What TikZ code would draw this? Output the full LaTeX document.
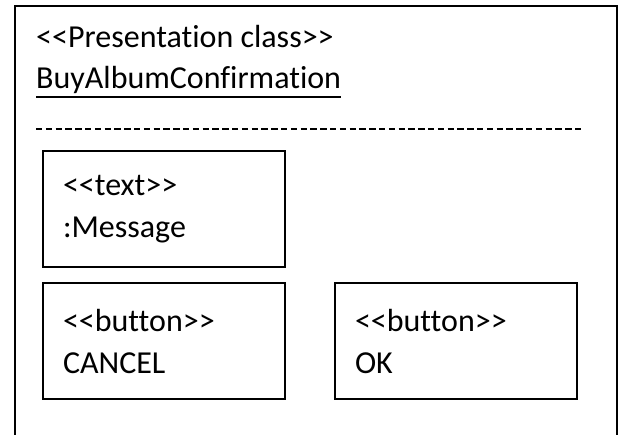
\documentclass[tikz,border=0pt]{standalone}
\usepackage{fontspec}
\setmainfont{Carlito}[Ligatures={NoCommon}]
\usetikzlibrary{positioning}
\newcommand\bodyfont{\fontsize{32}{42}\selectfont}
\newcommand\stereo[1]{<{}<#1>{}>}

\begin{document}
\begin{tikzpicture}[x=1pt,y=-1pt,
  winframe/.style={draw,line width=2.2pt,anchor=north west,outer sep=0pt,inner sep=0pt,
                   minimum width=602pt,minimum height=470pt},
  uibox/.style={draw,line width=2pt,anchor=north west,outer sep=0pt,
                minimum width=242pt,minimum height=116pt,text width=202pt,
                inner xsep=20pt,align=left,font=\bodyfont},
  lbl/.style={anchor=base west,inner sep=0pt,font=\bodyfont},
  sep/.style={line width=1.8pt,dash pattern=on 6.3pt off 3.5pt}
]
  \clip (0,0) rectangle (623,435);

  % Outer class frame (bottom edge falls outside)
  \node[winframe] (win) at (15,6) {};

  % Header
  \node[lbl] (stype) at (36,48) {\stereo{Presentation class}};
  \node[lbl] (cname) at (36,89) {BuyAlbumConfirmation};
  \draw[line width=2pt] ([yshift=-8pt]cname.base west) -- ([yshift=-8pt]cname.base east);

  % Separator
  \coordinate (sepL) at (36,129);
  \coordinate (sepR) at (582,129);
  \draw[sep] (sepL) -- (sepR);

  % Widgets
  \node[uibox] (msg)    at (43,151)  {\stereo{text}\\:Message};
  \node[uibox] (cancel) at (43,283)  {\stereo{button}\\CANCEL};
  \node[uibox] (ok)     at (335,283) {\stereo{button}\\OK};
\end{tikzpicture}
\end{document}
